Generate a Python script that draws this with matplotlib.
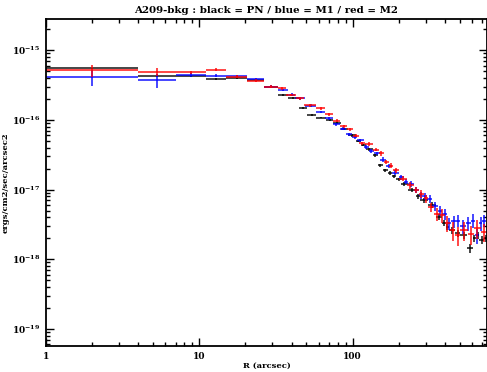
import numpy as np
import matplotlib
matplotlib.use("Agg")
import matplotlib.pyplot as plt
from matplotlib.ticker import LogLocator, NullFormatter, FixedLocator, LogFormatterMathtext

# radial bins (arcsec), surface brightness and fractional error per bin
pn_rin = [1, 4, 7, 11, 15, 20.5, 26.5, 32.5, 38, 44.5, 50.5, 58, 67, 75, 84, 93,
          105, 113, 122, 135, 147, 157, 170, 180, 193, 206, 230, 258, 275, 310,
          350, 385, 405, 425, 465, 505, 555, 605, 635, 670, 720]
pn_rout = [4, 7, 11, 15, 20.5, 26.5, 32.5, 38, 44.5, 50.5, 58, 67, 75, 84, 93, 105,
           113, 122, 135, 147, 157, 170, 180, 193, 206, 230, 258, 275, 310, 350,
           385, 405, 425, 465, 505, 555, 605, 635, 670, 720, 770]
pn_flux = [5.46e-16, 4.2e-16, 4.2e-16, 3.9e-16, 3.95e-16, 3.7e-16, 2.95e-16, 2.3e-16,
           2.05e-16, 1.5e-16, 1.18e-16, 1.08e-16, 1.0e-16, 9.0e-17, 7.4e-17, 6.0e-17,
           5.0e-17, 4.4e-17, 3.8e-17, 3.1e-17, 2.25e-17, 1.9e-17, 1.75e-17, 1.55e-17,
           1.4e-17, 1.2e-17, 9.8e-18, 8.0e-18, 7.0e-18, 6.0e-18, 4.1e-18, 3.3e-18,
           2.9e-18, 2.6e-18, 2.35e-18, 2.2e-18, 1.45e-18, 2.0e-18, 2.2e-18, 1.9e-18,
           2.0e-18]
pn_err = [0.03, 0.03, 0.03, 0.03, 0.03, 0.03, 0.03, 0.03, 0.03, 0.03, 0.03, 0.03,
          0.03, 0.04, 0.04, 0.04, 0.04, 0.04, 0.05, 0.05, 0.05, 0.05, 0.06, 0.06,
          0.06, 0.07, 0.07, 0.08, 0.08, 0.09, 0.1, 0.1, 0.1, 0.1, 0.12, 0.12, 0.15,
          0.12, 0.12, 0.12, 0.12]

m1_rin = [1, 4, 7, 11, 15, 20.5, 26.5, 32.5, 38, 42, 49, 58, 66, 74, 83, 90, 99,
          107, 118, 128, 137, 150, 165, 180, 200, 215, 230, 250, 270, 285, 305,
          330, 360, 385, 410, 440, 470, 505, 545, 590, 630, 665, 700]
m1_rout = [4, 7, 11, 15, 20.5, 26.5, 32.5, 38, 42, 49, 58, 66, 74, 83, 90, 99, 107,
           118, 128, 137, 150, 165, 180, 200, 215, 230, 250, 270, 285, 305, 330,
           360, 385, 410, 440, 470, 505, 545, 590, 630, 665, 700, 745]
m1_flux = [4.14e-16, 3.7e-16, 4.45e-16, 4.3e-16, 4.2e-16, 3.8e-16, 3.0e-16, 2.67e-16,
           2.3e-16, 2.03e-16, 1.6e-16, 1.3e-16, 1.05e-16, 8.6e-17, 7.5e-17, 6.25e-17,
           5.6e-17, 5.1e-17, 4.1e-17, 3.6e-17, 3.3e-17, 2.7e-17, 2.2e-17, 1.75e-17,
           1.5e-17, 1.3e-17, 1.2e-17, 1.0e-17, 8.3e-18, 8.0e-18, 7.4e-18, 5.8e-18,
           5.0e-18, 4.5e-18, 3.3e-18, 3.5e-18, 3.6e-18, 3.0e-18, 3.3e-18, 3.6e-18,
           2.2e-18, 3.3e-18, 3.6e-18]
m1_err = [0.27, 0.22, 0.06, 0.05, 0.05, 0.04, 0.04, 0.04, 0.04, 0.04, 0.04, 0.04,
          0.04, 0.05, 0.05, 0.05, 0.05, 0.05, 0.06, 0.06, 0.06, 0.07, 0.07, 0.08,
          0.08, 0.09, 0.1, 0.1, 0.12, 0.12, 0.14, 0.15, 0.16, 0.18, 0.2, 0.2, 0.2,
          0.22, 0.22, 0.22, 0.25, 0.22, 0.2]

m2_rin = [1, 4, 7, 11, 15, 20.5, 26.5, 32.5, 37, 43, 48, 58, 66, 75, 83, 92, 100,
          110, 120, 135, 148, 160, 172, 182, 200, 225, 252, 270, 290, 310, 338, 370,
          400, 430, 468, 505, 565, 615, 690]
m2_rout = [4, 7, 11, 15, 20.5, 26.5, 32.5, 37, 43, 48, 58, 66, 75, 83, 92, 100, 110,
           120, 135, 148, 160, 172, 182, 200, 225, 252, 270, 290, 310, 338, 370, 400,
           430, 468, 505, 565, 615, 690, 750]
m2_flux = [5.16e-16, 4.89e-16, 4.79e-16, 5.28e-16, 4.14e-16, 3.67e-16, 3.0e-16,
           2.82e-16, 2.26e-16, 2.03e-16, 1.62e-16, 1.46e-16, 1.2e-16, 9.7e-17, 8.1e-17,
           7.3e-17, 5.9e-17, 4.6e-17, 4.5e-17, 3.75e-17, 3.3e-17, 2.5e-17, 2.2e-17,
           1.9e-17, 1.44e-17, 1.15e-17, 1.0e-17, 8.7e-18, 7.5e-18, 5.6e-18, 4.5e-18,
           4.3e-18, 3.3e-18, 2.6e-18, 2.2e-18, 2.6e-18, 2.3e-18, 2.8e-18, 2.5e-18]
m2_err = [0.2, 0.12, 0.06, 0.05, 0.05, 0.04, 0.04, 0.04, 0.04, 0.04, 0.04, 0.04,
          0.04, 0.05, 0.05, 0.05, 0.05, 0.06, 0.06, 0.06, 0.07, 0.07, 0.08, 0.08,
          0.09, 0.1, 0.1, 0.12, 0.13, 0.15, 0.2, 0.22, 0.25, 0.3, 0.3, 0.3, 0.3,
          0.3, 0.3]

x_ticks = [1, 10, 100]
y_ticks = [1e-19, 1e-18, 1e-17, 1e-16, 1e-15]

title = "A209-bkg : black = PN / blue = M1 / red = M2"
xlabel = "R (arcsec)"
ylabel = "ergs/cm2/sec/arcsec2"


def draw_profile(ax, rin, rout, flux, err, color, lw):
    rin = np.array(rin)
    rout = np.array(rout)
    flux = np.array(flux)
    err = np.array(err) * flux
    r = np.sqrt(rin * rout)
    ax.errorbar(r, flux, xerr=[r - rin, rout - r], yerr=err, fmt="none",
                ecolor=color, elinewidth=lw, capsize=0, alpha=0.85)


fig = plt.figure(figsize=(4.87, 3.72), dpi=100)
ax = fig.add_axes([46 / 487, 26 / 372, 441 / 487, 327 / 372])

draw_profile(ax, pn_rin, pn_rout, pn_flux, pn_err, "black", 1.2)
draw_profile(ax, m1_rin, m1_rout, m1_flux, m1_err, "blue", 1.2)
draw_profile(ax, m2_rin, m2_rout, m2_flux, m2_err, "red", 1.2)

ax.set_xscale("log")
ax.set_yscale("log")
ax.set_xlim(1, 752)
ax.set_ylim(5.7e-20, 2.8e-15)

font = dict(family="DejaVu Serif", weight="bold", size=7.4)
ax.set_title(title, fontdict=font, pad=4)
ax.set_xlabel(xlabel, fontdict=dict(font, size=6), labelpad=1)
ax.set_ylabel(ylabel, fontdict=dict(font, size=6), labelpad=2)

ax.xaxis.set_major_locator(FixedLocator(x_ticks))
ax.xaxis.set_major_formatter(plt.FuncFormatter(lambda v, p: "%d" % v))
ax.xaxis.set_minor_locator(LogLocator(base=10, subs=np.arange(2, 10)))
ax.xaxis.set_minor_formatter(NullFormatter())
ax.yaxis.set_major_locator(FixedLocator(y_ticks))
ax.yaxis.set_major_formatter(LogFormatterMathtext())
ax.yaxis.set_minor_locator(LogLocator(base=10, subs=np.arange(2, 10), numticks=20))
ax.yaxis.set_minor_formatter(NullFormatter())

ax.tick_params(which="both", direction="in", top=True, right=True, width=1.0)
ax.tick_params(which="major", length=6)
ax.tick_params(which="minor", length=3)
ax.tick_params(axis="both", labelsize=6.5, pad=4)
for lab in ax.get_xticklabels() + ax.get_yticklabels():
    lab.set_fontfamily("DejaVu Serif")
    lab.set_fontweight("bold")
for sp in ax.spines.values():
    sp.set_linewidth(1.3)

fig.savefig("out.png", dpi=100)
